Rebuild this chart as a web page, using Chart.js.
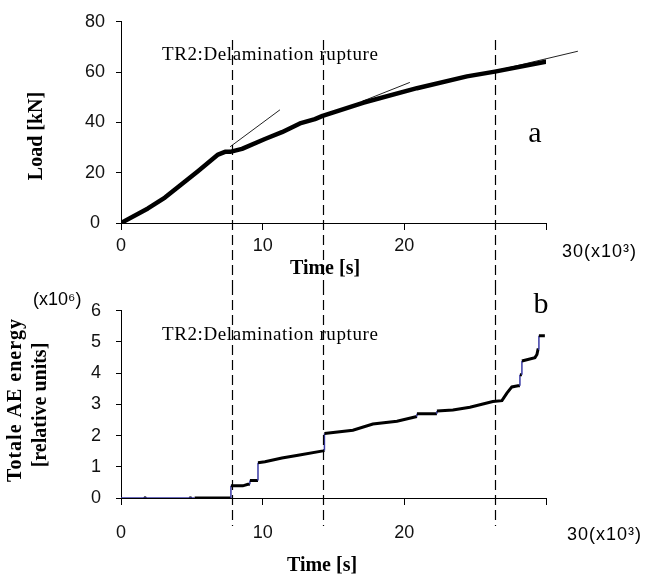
<!DOCTYPE html>
<html>
<head>
<meta charset="utf-8">
<title>Load and total AE energy vs time</title>
<script src="https://cdn.jsdelivr.net/npm/chart.js@4.4.1/dist/chart.umd.min.js"></script>
<style>
  body { margin: 0; background: #fff; }
  #wrap { position: relative; width: 645px; height: 580px; }
  canvas { position: absolute; left: 0; }
  #loadChart { top: 0; }
  #aeChart { top: 285px; }
</style>
</head>
<body>
<div id="wrap">
  <canvas id="loadChart" width="645" height="285"></canvas>
  <canvas id="aeChart" width="645" height="295"></canvas>
</div>
<script>
// time is in 10^3 s
var loadTime  = [0, 1.9, 3.1, 5.43, 6.85, 7.34, 7.7, 8.54, 10.16, 11.36, 12.63, 13.69, 14.23, 17.08, 20.89, 24.42, 26.39, 30.0];
var loadValue = [0, 5.8, 10.1, 20.6, 27.2, 28.3, 28.3, 29.5, 33.4, 36.1, 39.6, 41.3, 42.6, 47.8, 53.6, 58.3, 60.2, 64.1];

// thin tangent lines (start, end)
var tangentTimes = [[7.7, 11.22], [17.08, 20.39], [25.0, 32.25]];
var tangentLoads = [[30.3, 45.0], [48.5, 55.9], [58.6, 68.3]];

// cumulative AE energy (x10^6), vertices of the step curve
var aeTime   = [0, 5.2, 7.76, 7.76, 8.6, 8.96, 9.1, 9.1, 9.67, 9.67, 10.16, 11.36, 12.5, 14.26, 14.36, 14.36, 16.37, 17.78, 19.48, 20.89, 20.89, 22.3, 22.3, 23.43, 24.63, 26.25, 26.89, 27.24, 27.59, 28.02, 28.16, 28.16, 28.3, 28.3, 29.22, 29.36, 29.43, 29.5, 29.5, 29.92];
var aeEnergy = [0, 0, 0, 0.39, 0.39, 0.44, 0.44, 0.56, 0.56, 1.13, 1.16, 1.28, 1.37, 1.51, 1.52, 2.07, 2.17, 2.37, 2.46, 2.61, 2.70, 2.70, 2.79, 2.82, 2.91, 3.09, 3.12, 3.36, 3.56, 3.60, 3.60, 3.95, 3.95, 4.39, 4.50, 4.60, 4.75, 4.75, 5.20, 5.20];
var aeMarkTime = [1.7, 4.9];

var eventTimes = [7.8, 14.25, 26.4];

var timeTicks = [0, 10, 20, 30];
var loadTicks = [0, 20, 40, 60, 80];
var aeTicks = [0, 1, 2, 3, 4, 5, 6];

var sans = '"Liberation Sans", Arial, sans-serif';
var serif = '"Liberation Serif", "Times New Roman", serif';
var tickFont = { family: sans, size: 18 };

function pts(xs, ys) {
  return xs.map(function (x, i) { return { x: x, y: ys[i] }; });
}

var overlayPlugin = {
  id: 'overlay',
  afterDraw: function (chart, args, opts) {
    var ctx = chart.ctx;
    var xs = chart.scales.x;
    ctx.save();
    opts.texts.forEach(function (t) {
      ctx.save();
      ctx.font = t.font;
      ctx.fillStyle = '#000';
      ctx.textAlign = t.align || 'left';
      ctx.textBaseline = t.baseline || 'middle';
      if (t.spacing) ctx.letterSpacing = t.spacing;
      ctx.translate(t.x, t.y);
      if (t.rotate) ctx.rotate(t.rotate);
      ctx.fillText(t.text, 0, 0);
      ctx.restore();
    });
    ctx.strokeStyle = '#000';
    ctx.lineWidth = 1.2;
    ctx.setLineDash([10, 5]);
    eventTimes.forEach(function (v) {
      var px = Math.round(xs.getPixelForValue(v)) + 0.5;
      ctx.beginPath();
      ctx.moveTo(px, opts.dashFrom);
      ctx.lineTo(px, opts.dashTo);
      ctx.stroke();
    });
    ctx.restore();
  }
};

function timeAxis(labelPad, height) {
  return {
    type: 'linear', min: 0, max: 30,
    afterBuildTicks: function (s) { s.ticks = timeTicks.map(function (v) { return { value: v }; }); },
    ticks: {
      padding: labelPad, font: tickFont, color: '#111', maxRotation: 0,
      callback: function (v) { return v === 30 ? '' : String(v); }
    },
    grid: { drawOnChartArea: false, tickLength: 7, color: '#000' },
    border: { color: '#000', width: 1 },
    afterFit: function (s) { s.height = height; }
  };
}

function valueAxis(ticksArr, max, labelPad, width) {
  return {
    min: 0, max: max,
    afterBuildTicks: function (s) { s.ticks = ticksArr.map(function (v) { return { value: v }; }); },
    ticks: { padding: labelPad, font: tickFont, color: '#111', crossAlign: 'center' },
    grid: { drawOnChartArea: false, tickLength: 5, color: '#000' },
    border: { color: '#000', width: 1 },
    afterFit: function (s) { s.width = width; }
  };
}

Chart.defaults.animation = false;

var loadSets = [{
  data: pts(loadTime, loadValue),
  borderColor: '#000', borderWidth: 4.5, borderJoinStyle: 'round', borderCapStyle: 'round',
  pointRadius: 0, tension: 0
}];
tangentTimes.forEach(function (tt, i) {
  loadSets.push({
    data: pts(tt, tangentLoads[i]),
    borderColor: '#222', borderWidth: 1, pointRadius: 0, clip: false
  });
});

new Chart(document.getElementById('loadChart'), {
  type: 'line',
  data: { datasets: loadSets },
  options: {
    responsive: false,
    layout: { padding: { left: 0, right: 99, top: 17, bottom: 0 } },
    plugins: {
      legend: { display: false },
      tooltip: { enabled: false },
      overlay: {
        dashFrom: 40, dashTo: 285,
        texts: [
          { text: 'TR2:Delamination rupture', x: 162, y: 55, font: '19px ' + serif, spacing: '0.6px' },
          { text: 'a', x: 535, y: 142, font: '30px ' + serif, align: 'center', baseline: 'alphabetic' },
          { text: '30(x10\u00B3)', x: 562, y: 252, font: '18px ' + sans, spacing: '1px' },
          { text: 'Load [kN]', x: 37, y: 136, font: 'bold 20px ' + serif, align: 'center', rotate: -Math.PI / 2 },
          { text: 'Time [s]', x: 325, y: 269, font: 'bold 20px ' + serif, align: 'center' }
        ]
      }
    },
    scales: {
      x: timeAxis(5, 62),
      y: valueAxis(loadTicks, 80, 11, 121)
    }
  },
  plugins: [overlayPlugin]
});

function isBlue(c) {
  var a = c.p0.parsed, b = c.p1.parsed;
  return a.x === b.x || (a.y === 0 && b.y === 0 && b.x < 6);
}

new Chart(document.getElementById('aeChart'), {
  type: 'line',
  data: {
    datasets: [{
      data: pts(aeTime, aeEnergy),
      borderColor: '#000', borderWidth: 3, pointRadius: 0, tension: 0,
      segment: {
        borderColor: function (c) { return isBlue(c) ? '#3a3aa6' : '#000'; },
        borderWidth: function (c) { return isBlue(c) ? 1.5 : 3; }
      }
    }, {
      data: pts(aeMarkTime, aeMarkTime.map(function () { return 0; })),
      showLine: false, pointStyle: 'rect', pointRadius: 1.5,
      pointBackgroundColor: '#000', pointBorderColor: '#000'
    }]
  },
  options: {
    responsive: false,
    layout: { padding: { left: 0, right: 99, top: 11, bottom: 0 } },
    plugins: {
      legend: { display: false },
      tooltip: { enabled: false },
      overlay: {
        dashFrom: 0, dashTo: 241,
        texts: [
          { text: '(x10\u2076)', x: 33, y: 15, font: '18px ' + sans },
          { text: 'TR2:Delamination rupture', x: 162, y: 50, font: '19px ' + serif, spacing: '0.6px' },
          { text: 'b', x: 541, y: 28, font: '30px ' + serif, align: 'center', baseline: 'alphabetic' },
          { text: '30(x10\u00B3)', x: 567, y: 250, font: '18px ' + sans, spacing: '1px' },
          { text: 'Totale AE energy', x: 16, y: 115, font: 'bold 20px ' + serif, align: 'center', rotate: -Math.PI / 2, spacing: '1px' },
          { text: '[relative units]', x: 41, y: 120, font: 'bold 20px ' + serif, align: 'center', rotate: -Math.PI / 2 },
          { text: 'Time [s]', x: 322, y: 281, font: 'bold 20px ' + serif, align: 'center' }
        ]
      }
    },
    scales: {
      x: timeAxis(17, 82),
      y: valueAxis(aeTicks, 6, 15, 121)
    }
  },
  plugins: [overlayPlugin]
});
</script>
</body>
</html>
